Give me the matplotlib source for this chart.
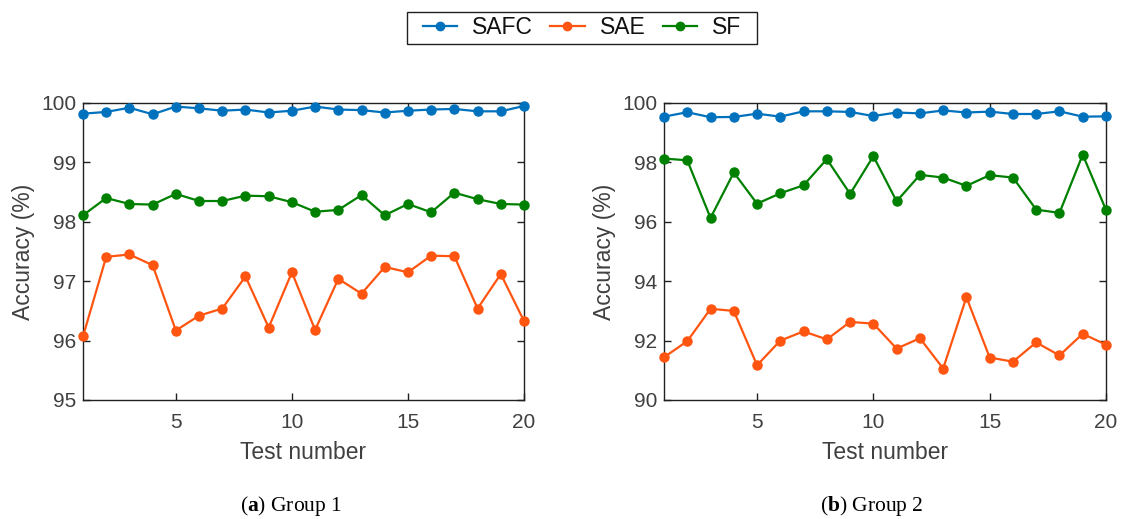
import matplotlib
matplotlib.use("Agg")
import matplotlib.pyplot as plt
from matplotlib.lines import Line2D
from matplotlib.patches import Rectangle

tests = list(range(1, 21))

# Group 1 accuracies (%)
g1_safc = [99.82, 99.85, 99.92, 99.81, 99.94, 99.91, 99.87, 99.89, 99.84, 99.87,
           99.94, 99.89, 99.88, 99.84, 99.87, 99.89, 99.90, 99.86, 99.86, 99.95]
g1_sae = [96.07, 97.41, 97.45, 97.27, 96.17, 96.42, 96.54, 97.08, 96.22, 97.15,
          96.18, 97.04, 96.79, 97.24, 97.15, 97.43, 97.42, 96.54, 97.12, 96.33]
g1_sf = [98.11, 98.40, 98.30, 98.29, 98.47, 98.35, 98.35, 98.44, 98.43, 98.33,
         98.17, 98.20, 98.45, 98.11, 98.30, 98.16, 98.49, 98.38, 98.30, 98.29]

# Group 2 accuracies (%)
g2_safc = [99.54, 99.69, 99.52, 99.53, 99.64, 99.54, 99.72, 99.72, 99.70, 99.56,
           99.68, 99.65, 99.75, 99.68, 99.71, 99.63, 99.63, 99.72, 99.54, 99.55]
g2_sae = [91.44, 91.98, 93.07, 93.00, 91.17, 92.00, 92.31, 92.04, 92.63, 92.57,
          91.73, 92.08, 91.06, 93.46, 91.43, 91.29, 91.94, 91.50, 92.23, 91.86]
g2_sf = [98.13, 98.07, 96.13, 97.66, 96.61, 96.96, 97.23, 98.11, 96.94, 98.21,
         96.69, 97.58, 97.49, 97.21, 97.57, 97.49, 96.41, 96.30, 98.26, 96.40]

series_names = ["SAFC", "SAE", "SF"]
colors = ["#0072BD", "#FF5510", "#008000"]
xticks = [5, 10, 15, 20]
g1_yticks = [95, 96, 97, 98, 99, 100]
g2_yticks = [90, 92, 94, 96, 98, 100]
captions = [("a", "Group 1"), ("b", "Group 2")]

plt.rcParams["font.family"] = ["Liberation Sans", "DejaVu Sans"]
plt.rcParams["mathtext.fontset"] = "custom"
plt.rcParams["mathtext.rm"] = "Liberation Serif"
plt.rcParams["mathtext.bf"] = "Liberation Serif:bold"

W, H = 1122, 519
fig = plt.figure(figsize=(W / 100, H / 100), dpi=100)

def rect(x0, y0, x1, y1):
    return [x0 / W, 1 - y1 / H, (x1 - x0) / W, (y1 - y0) / H]

axes = [fig.add_axes(rect(83, 103, 524, 400)),
        fig.add_axes(rect(664, 103, 1106, 400))]

groups = [(g1_safc, g1_sae, g1_sf, g1_yticks),
          (g2_safc, g2_sae, g2_sf, g2_yticks)]

text_color = "#404040"
for ax, (safc, sae, sf, yt) in zip(axes, groups):
    for vals, c in zip((safc, sae, sf), colors):
        ax.plot(tests, vals, color=c, lw=1.6, marker="o", ms=6.5, mec=c, mfc=c,
                clip_on=False, zorder=3)
    ax.set_xlim(1, 20)
    ax.set_ylim(yt[0], yt[-1])
    ax.set_xticks(xticks)
    ax.set_yticks(yt)
    ax.tick_params(direction="in", top=True, right=True, length=5, width=1,
                   labelsize=15, labelcolor=text_color, color="#202020")
    ax.tick_params(axis="x", pad=9)
    ax.tick_params(axis="y", pad=5)
    for s in ax.spines.values():
        s.set_linewidth(1.0)
        s.set_color("#202020")
    ax.set_xlabel("Test number", fontsize=16.5, color=text_color, labelpad=7)
    ax.set_ylabel("Accuracy (%)", fontsize=16.5, color=text_color, labelpad=4)

for (letter, text), xc in zip(captions, (291, 872)):
    fig.text(xc / W, 1 - 506 / H, r"($\mathbf{%s}$) %s" % (letter, text),
             ha="center", va="center", fontsize=15.5,
             family=["Liberation Serif", "DejaVu Serif"])

handles = [Line2D([], [], color=c, lw=1.6, marker="o", ms=6, label=n)
           for n, c in zip(series_names, colors)]
leg = fig.legend(handles=handles, loc="center", bbox_to_anchor=(582 / W, 1 - 28 / H),
                 ncol=3, frameon=False, fontsize=16.5, handlelength=1.5,
                 columnspacing=0.75, handletextpad=0.65, borderpad=0.0)
for t in leg.get_texts():
    t.set_color("#111111")
fig.patches.append(Rectangle((407 / W, 1 - 44 / H), 350 / W, 32 / H,
                             transform=fig.transFigure, fill=False,
                             edgecolor="#202020", lw=1.0))

fig.savefig("out.png", dpi=100)
